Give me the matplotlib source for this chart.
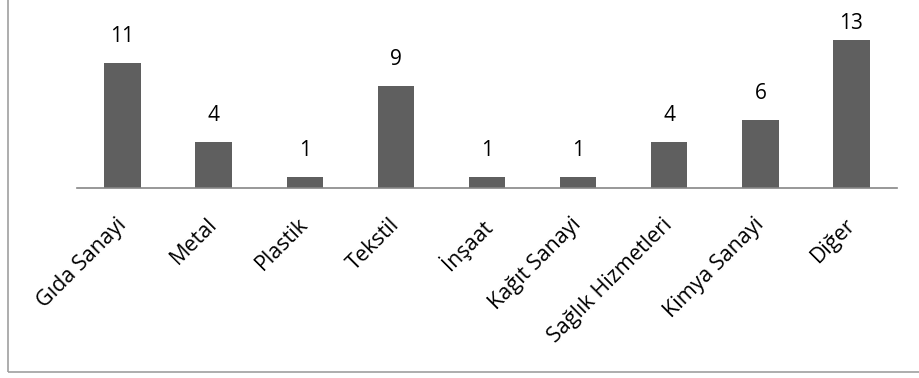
import matplotlib.pyplot as plt
import matplotlib.transforms as mtransforms
from matplotlib.patches import Rectangle

# sector counts
categories = ['Gıda Sanayi', 'Metal', 'Plastik', 'Tekstil', 'İnşaat',
              'Kağıt Sanayi', 'Sağlık Hizmetleri', 'Kimya Sanayi', 'Diğer']
counts = [11, 4, 1, 9, 1, 1, 4, 6, 13]

W, H = 920, 378
plt.rcParams['font.family'] = ['Open Sans', 'DejaVu Sans']

fig = plt.figure(figsize=(W / 100, H / 100), dpi=100)
base_y = 188
ax = fig.add_axes([77 / W, 1 - base_y / H, (897 - 77) / W, base_y / H])

x = list(range(len(categories)))
ax.bar(x, counts, width=0.4, color='#5f5f5f')
ax.set_xlim(-0.5, len(categories) - 0.5)
ax.set_ylim(0, 13 * base_y / 148)

# value labels above bars, kept inside the chart area like Excel does
fig.canvas.draw()
for xi, v in zip(x, counts):
    px, py = ax.transData.transform((xi, v))
    ly = min(py + 16, H - 34)
    ax.annotate(str(v), (px, ly), xycoords='figure pixels',
                ha='center', va='bottom', fontsize=15, color='#000000')

ax.set_xticks(x)
ax.set_xticklabels(categories, rotation=45, ha='right', rotation_mode='anchor',
                   fontsize=15.5)
ax.tick_params(axis='x', length=0, pad=13)
shift = mtransforms.ScaledTranslation(-7 / 100, -8 / 100, fig.dpi_scale_trans)
for lbl in ax.get_xticklabels():
    lbl.set_transform(lbl.get_transform() + shift)
ax.set_yticks([])
for s in ['top', 'left', 'right']:
    ax.spines[s].set_visible(False)
ax.spines['bottom'].set_color('#868686')
ax.spines['bottom'].set_linewidth(1.2)

# outer chart frame (cropped at top and right)
fig.patches.append(Rectangle((8 / W, 6 / H), 1.0, 1.0, transform=fig.transFigure,
                             fill=False, edgecolor='#a0a0a0', linewidth=1.2))

fig.savefig('out.png', dpi=100)
